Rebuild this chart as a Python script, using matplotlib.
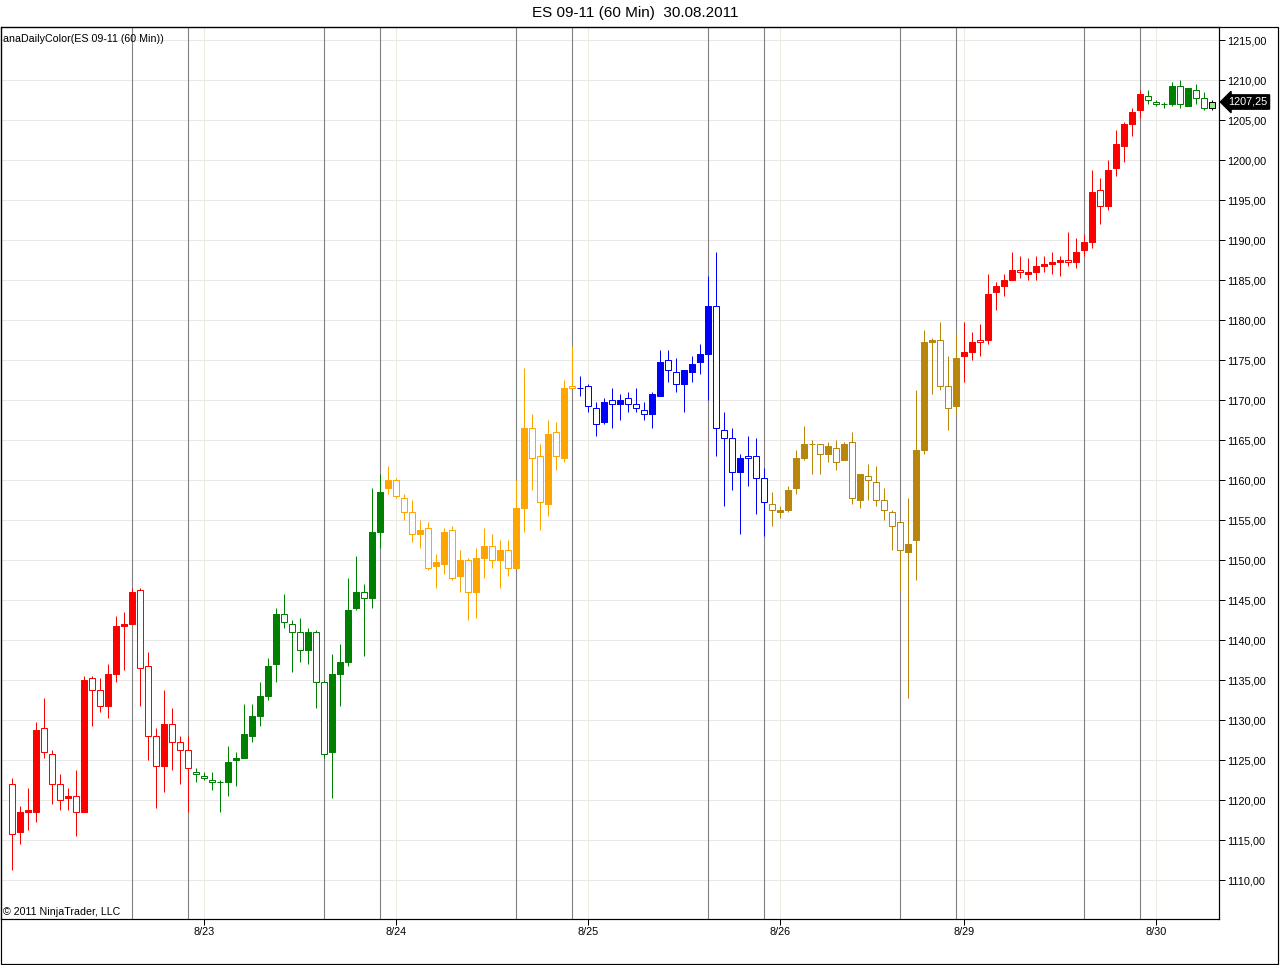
import matplotlib
matplotlib.use('Agg')
import matplotlib.pyplot as plt
from matplotlib.patches import Rectangle

plt.rcParams['font.family'] = ['Liberation Sans', 'DejaVu Sans']

# hourly ES 09-11 bars (index = bar number)
opens = [
    1122.0, 1116.0, 1118.5, 1118.5, 1129.0, 1125.75, 1122.0, 1120.25, 1120.5, 1118.5,
    1135.25, 1133.75, 1131.75, 1135.75, 1141.75, 1142.0, 1146.25, 1136.75, 1128.0, 1124.25,
    1129.5, 1127.25, 1126.25, 1123.5, 1123.0, 1122.5, 1122.25, 1122.25, 1125.0, 1125.25,
    1128.0, 1130.5, 1133.0, 1137.0, 1143.25, 1142.0, 1141.0, 1138.75, 1141.0, 1134.75,
    1126.0, 1135.75, 1137.25, 1144.0, 1146.0, 1145.25, 1153.5, 1159.0, 1160.0, 1157.75,
    1156.0, 1153.25, 1154.0, 1149.25, 1149.5, 1153.75, 1148.0, 1150.0, 1146.0, 1150.25,
    1151.75, 1150.0, 1151.25, 1149.0, 1156.5, 1166.5, 1163.0, 1157.0, 1166.0, 1162.75,
    1171.75, 1171.5, 1171.75, 1169.0, 1167.25, 1170.0, 1169.5, 1170.25, 1169.5, 1168.75,
    1168.25, 1170.5, 1175.0, 1173.5, 1172.0, 1173.5, 1174.75, 1175.75, 1181.75, 1166.25,
    1165.25, 1161.0, 1163.0, 1163.0, 1160.25, 1157.0, 1156.0, 1156.25, 1159.0, 1162.75,
    1164.5, 1164.5, 1163.25, 1164.0, 1162.5, 1164.75, 1157.5, 1160.5, 1159.75, 1157.5,
    1156.0, 1154.75, 1151.0, 1152.5, 1163.75, 1177.25, 1177.5, 1171.75, 1169.25, 1175.5,
    1176.0, 1177.5, 1177.5, 1183.5, 1184.25, 1185.0, 1186.25, 1185.75, 1186.0, 1186.75,
    1187.0, 1187.25, 1187.5, 1187.25, 1188.75, 1189.75, 1196.25, 1194.25, 1199.0, 1201.75,
    1204.5, 1206.25, 1208.0, 1207.25, 1207.0, 1207.0, 1209.25, 1206.75, 1208.75, 1207.75,
    1206.5,
]
highs = [
    1122.75, 1119.25, 1121.5, 1129.75, 1132.75, 1126.25, 1123.25, 1121.5, 1123.75, 1135.5,
    1135.5, 1135.25, 1137.0, 1143.0, 1143.5, 1146.5, 1146.5, 1138.5, 1129.0, 1133.75,
    1131.5, 1128.0, 1128.0, 1124.0, 1123.5, 1123.5, 1122.5, 1126.75, 1126.0, 1132.0,
    1132.0, 1134.75, 1137.75, 1144.0, 1145.75, 1142.5, 1142.75, 1141.5, 1141.25, 1135.0,
    1138.25, 1139.5, 1147.75, 1150.5, 1147.0, 1159.0, 1160.75, 1161.75, 1160.25, 1158.25,
    1157.5, 1155.0, 1154.75, 1150.75, 1154.0, 1154.25, 1151.25, 1150.25, 1151.5, 1154.0,
    1153.25, 1152.5, 1152.5, 1160.0, 1174.0, 1168.25, 1164.5, 1167.5, 1167.25, 1172.5,
    1176.75, 1173.0, 1172.0, 1169.75, 1170.25, 1171.5, 1170.75, 1171.0, 1171.5, 1169.75,
    1171.0, 1176.25, 1176.25, 1175.25, 1173.75, 1175.5, 1177.0, 1185.5, 1188.5, 1168.5,
    1166.5, 1163.25, 1165.5, 1165.25, 1161.5, 1158.5, 1156.75, 1159.25, 1163.75, 1166.75,
    1165.0, 1164.5, 1164.75, 1165.0, 1164.75, 1166.0, 1160.75, 1162.0, 1161.75, 1159.0,
    1156.25, 1154.75, 1157.75, 1171.25, 1178.75, 1177.75, 1179.75, 1175.5, 1178.25, 1179.75,
    1178.5, 1179.5, 1185.75, 1184.75, 1185.75, 1188.5, 1188.0, 1187.75, 1188.0, 1188.0,
    1188.5, 1188.0, 1191.0, 1190.25, 1190.75, 1198.75, 1197.75, 1200.0, 1203.75, 1204.75,
    1206.5, 1208.75, 1208.75, 1207.5, 1207.25, 1209.75, 1210.0, 1209.0, 1209.5, 1208.5,
    1207.5,
]
lows = [
    1111.25, 1114.5, 1116.25, 1117.25, 1125.25, 1119.5, 1118.75, 1118.75, 1115.5, 1118.5,
    1129.25, 1131.0, 1130.25, 1134.75, 1136.25, 1142.0, 1131.75, 1125.0, 1119.0, 1121.0,
    1123.75, 1122.0, 1118.5, 1122.25, 1122.5, 1121.25, 1118.5, 1120.5, 1121.75, 1125.25,
    1127.25, 1129.25, 1132.5, 1134.75, 1141.5, 1136.0, 1137.25, 1137.0, 1131.5, 1125.25,
    1120.25, 1131.75, 1136.75, 1143.75, 1138.0, 1144.0, 1151.5, 1158.25, 1157.75, 1155.0,
    1152.25, 1151.5, 1148.75, 1146.5, 1148.25, 1147.5, 1146.0, 1142.5, 1142.75, 1147.75,
    1149.0, 1146.5, 1148.0, 1149.0, 1153.5, 1158.75, 1153.75, 1155.5, 1161.25, 1162.25,
    1171.5, 1170.5, 1168.5, 1165.5, 1167.0, 1166.5, 1167.5, 1168.5, 1168.5, 1167.5,
    1166.5, 1170.5, 1172.25, 1171.0, 1168.5, 1172.25, 1173.25, 1170.0, 1163.0, 1156.75,
    1158.75, 1153.25, 1159.25, 1155.75, 1153.0, 1154.25, 1155.25, 1156.0, 1158.25, 1162.5,
    1160.75, 1160.75, 1162.25, 1161.25, 1162.5, 1157.0, 1156.5, 1157.5, 1156.75, 1155.0,
    1151.25, 1146.25, 1132.75, 1147.5, 1163.25, 1170.75, 1171.25, 1166.25, 1168.25, 1172.25,
    1175.0, 1175.5, 1177.0, 1181.25, 1183.0, 1185.0, 1185.25, 1185.0, 1185.0, 1186.0,
    1185.75, 1185.5, 1186.75, 1186.5, 1188.0, 1189.0, 1192.0, 1193.75, 1198.0, 1199.75,
    1203.0, 1205.25, 1207.0, 1206.75, 1206.5, 1206.75, 1206.5, 1206.75, 1207.0, 1206.25,
    1206.25,
]
closes = [
    1115.75, 1118.5, 1118.75, 1128.75, 1126.0, 1122.0, 1120.0, 1120.5, 1118.5, 1135.0,
    1133.75, 1131.75, 1135.75, 1141.75, 1142.0, 1146.0, 1136.5, 1128.0, 1124.25, 1129.5,
    1127.25, 1126.25, 1124.0, 1123.25, 1122.75, 1122.25, 1122.25, 1124.75, 1125.25, 1128.25,
    1130.5, 1133.0, 1136.75, 1143.25, 1142.25, 1141.0, 1138.75, 1141.0, 1134.75, 1125.75,
    1135.75, 1137.25, 1143.75, 1146.0, 1145.25, 1153.5, 1158.5, 1160.0, 1158.0, 1156.0,
    1153.25, 1153.75, 1149.0, 1149.75, 1153.5, 1147.75, 1150.0, 1146.0, 1150.25, 1151.75,
    1150.0, 1151.25, 1149.0, 1156.5, 1166.5, 1162.75, 1157.25, 1165.75, 1163.0, 1171.5,
    1171.5, 1171.5, 1169.25, 1167.0, 1169.75, 1169.5, 1170.0, 1169.5, 1169.0, 1168.25,
    1170.75, 1174.75, 1173.75, 1172.0, 1173.75, 1174.5, 1175.75, 1181.75, 1166.5, 1165.25,
    1161.0, 1162.75, 1162.75, 1160.25, 1157.25, 1156.25, 1156.25, 1158.75, 1162.75, 1164.5,
    1164.5, 1163.25, 1164.25, 1162.25, 1164.5, 1157.75, 1160.75, 1160.0, 1157.5, 1156.25,
    1154.25, 1151.25, 1152.0, 1163.75, 1177.25, 1177.5, 1171.75, 1169.0, 1175.25, 1176.0,
    1177.25, 1177.25, 1183.25, 1184.25, 1185.0, 1186.25, 1186.0, 1186.0, 1186.75, 1187.0,
    1187.25, 1187.5, 1187.25, 1188.5, 1189.75, 1196.0, 1194.25, 1198.75, 1202.0, 1204.5,
    1206.0, 1208.25, 1207.5, 1207.0, 1207.0, 1209.25, 1207.0, 1209.0, 1207.75, 1206.5,
    1207.25,
]

# anaDailyColor: one colour per trading day
day_start_bars = [0, 23, 47, 71, 95, 119, 142]
day_colors = ['#ff0000', '#008000', '#ffa500', '#0000ff', '#b8860b', '#ff0000', '#008000']

# session open/close markers
session_bars = [15, 22, 39, 46, 63, 70, 87, 94, 111, 118, 134, 141]

# date labels on the time axis
date_tick_bars = [24, 48, 72, 96, 119, 143]
date_labels = ['8/23', '8/24', '8/25', '8/26', '8/29', '8/30']

price_ticks = [1110, 1115, 1120, 1125, 1130, 1135, 1140, 1145, 1150, 1155, 1160,
               1165, 1170, 1175, 1180, 1185, 1190, 1195, 1200, 1205, 1210, 1215]

W, H = 1280, 965
PX = 0.72  # one pixel in points


def bar_color(i):
    col = day_colors[0]
    for start, c in zip(day_start_bars, day_colors):
        if i >= start:
            col = c
    return col


def draw_candles(ax):
    width = 0.72
    last = len(closes) - 1
    for i in range(len(closes)):
        o, h, l, c = opens[i], highs[i], lows[i], closes[i]
        col = bar_color(i)
        edge = col
        face = col if c > o else 'white'
        if i == last:
            # the bar still in progress
            edge = 'black'
            face = '#90ee90'
        ax.vlines(i, l, h, color=edge, lw=PX, zorder=2)
        if c == o:
            ax.hlines(o, i - width / 2, i + width / 2, color=edge, lw=PX, zorder=3)
        else:
            ax.add_patch(Rectangle((i - width / 2, min(o, c)), width, abs(c - o),
                                   facecolor=face, edgecolor=edge, lw=PX, zorder=3))


def main():
    fig = plt.figure(figsize=(W / 100, H / 100), dpi=100)
    ax = fig.add_axes([1 / W, 46 / H, 1218 / W, 892 / H])

    ax.set_xlim(-1.41, 150.84)
    ax.set_ylim(1105.125, 1216.625)

    # light grid
    for p in price_ticks:
        ax.axhline(p, color='#e8e8e8', lw=PX, zorder=0)
    for b in date_tick_bars:
        ax.axvline(b, color='#ece9e0', lw=PX, zorder=0)
    # session lines
    for b in session_bars:
        ax.axvline(b, color='#808080', lw=PX * 1.1, zorder=1)

    draw_candles(ax)

    # axes
    for s in ax.spines.values():
        s.set_color('black')
        s.set_linewidth(PX * 1.2)
    ax.yaxis.tick_right()
    ax.set_yticks(price_ticks)
    ax.set_yticklabels([('%.2f' % p).replace('.', ',') for p in price_ticks])
    ax.set_xticks(date_tick_bars)
    ax.set_xticklabels(date_labels)
    ax.tick_params(axis='both', direction='out', length=4, width=PX, labelsize=7.8,
                   colors='black', pad=2)

    # last price marker
    ax.text(1.0075, closes[-1], ('%.2f' % closes[-1]).replace('.', ','),
            transform=ax.get_yaxis_transform(), ha='left', va='center',
            fontsize=7.8, color='white', zorder=5, clip_on=False,
            bbox=dict(boxstyle='larrow,pad=0.2', fc='black', ec='black'))

    # texts and outer frame
    fig.text(635 / W, 1 - 13 / H, 'ES 09-11 (60 Min)  30.08.2011', ha='center', va='center',
             fontsize=11)
    fig.text(3 / W, 1 - 39 / H, 'anaDailyColor(ES 09-11 (60 Min))', ha='left', va='center',
             fontsize=7.7)
    fig.text(3 / W, 1 - 912 / H, '\u00a9 2011 NinjaTrader, LLC', ha='left', va='center',
             fontsize=7.7)
    fig.add_artist(Rectangle((1 / W, 1 / H), 1277 / W, 937 / H, transform=fig.transFigure,
                             fill=False, ec='black', lw=PX * 1.2))

    fig.savefig('out.png', dpi=100)


main()
